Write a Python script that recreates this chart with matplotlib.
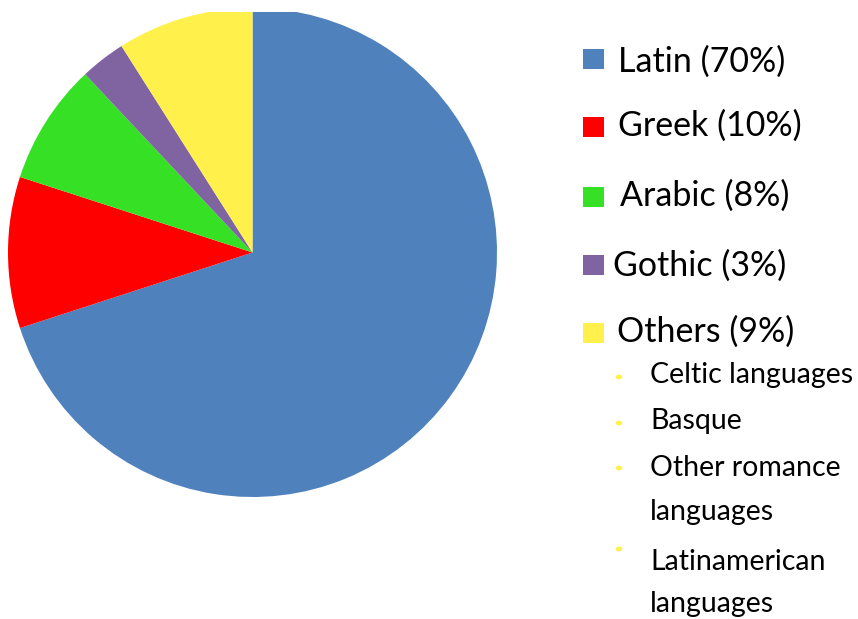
import matplotlib
matplotlib.use("Agg")
import matplotlib.pyplot as plt
from matplotlib.patches import Rectangle, Circle

categories = ["Latin", "Greek", "Arabic", "Gothic", "Others"]
values = [70, 10, 8, 3, 9]
colors = ["#4F81BD", "#FF0000", "#36E024", "#8064A2", "#FFF04C"]
legend_labels = ["Latin (70%)", "Greek (10%)", "Arabic (8%)", "Gothic (3%)", "Others (9%)"]
sub_items = [["Celtic languages"], ["Basque"], ["Other romance", "languages"],
             ["Latinamerican", "languages"]]

W, H = 858, 619
fig = plt.figure(figsize=(W / 100, H / 100), dpi=100)
FONT = "Lato"

# pie axes: circle centre (252.5, 252.5) px, radius 244.5 px, clipped at top y=12
cx, cy, r = 252.5, 252.5, 244.5
top, bottom = 12, cy + r
left, right = cx - r, cx + r
ax = fig.add_axes([left / W, 1 - bottom / H, (right - left) / W, (bottom - top) / H])
wedges, _ = ax.pie(values, colors=colors, startangle=90, counterclock=False,
                   wedgeprops=dict(linewidth=0))
for w in wedges:
    w.set_clip_on(True)
ax.set_aspect("auto")
ax.set_xlim(-1, 1)
ax.set_ylim(-1, (cy - top) / r)
ax.axis("off")

def fx(x):
    return x / W

def fy(y):
    return 1 - y / H

# legend squares and labels
sq_tops = [49, 117, 187, 255, 323]
text_x = [618, 618, 620, 613, 617]
baselines = [72, 136, 206, 276, 342]
for i, lab in enumerate(legend_labels):
    fig.patches.append(Rectangle((fx(583), fy(sq_tops[i] + 20)), 21 / W, 20 / H,
                                 transform=fig.transFigure, facecolor=colors[i],
                                 edgecolor="none"))
    fig.text(fx(text_x[i]), fy(baselines[i]), lab, fontsize=24.5, family=FONT,
             va="baseline", ha="left", color="black")

# sub bullets
bullet_y = [377, 423, 468, 549]
sub_baselines = [[383], [429], [476, 520], [570, 612]]
for i, lines in enumerate(sub_items):
    fig.patches.append(Circle((fx(619), fy(bullet_y[i])), 3.3 / W,
                              transform=fig.transFigure, facecolor="#FFF04C",
                              edgecolor="none"))
    for line, by in zip(lines, sub_baselines[i]):
        fig.text(fx(650), fy(by), line, fontsize=20.5, family=FONT,
                 va="baseline", ha="left", color="black")

fig.savefig("out.png", dpi=100)
